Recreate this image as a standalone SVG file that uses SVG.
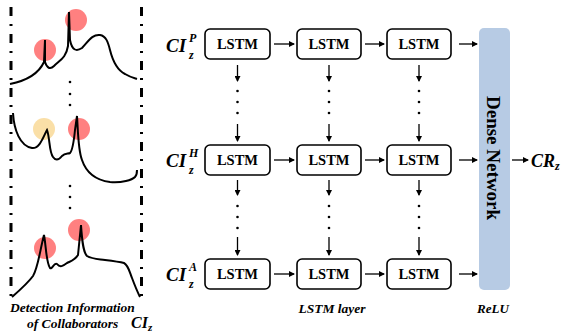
<svg xmlns="http://www.w3.org/2000/svg" width="567" height="336" viewBox="0 0 567 336">
<style>
.box{fill:#fff;stroke:#000;stroke-width:1.6}
.lt{font-family:"Liberation Serif",serif;font-weight:bold;font-size:14.5px;text-anchor:middle}
.lab{font-family:"Liberation Serif",serif;font-weight:bold;font-style:italic}
.dn{font-family:"Liberation Serif",serif;font-weight:bold;font-style:normal;font-size:19px;text-anchor:middle}
.ar{stroke:#000;stroke-width:1.3;fill:none;marker-end:url(#ah)}
.dot{fill:#000}
.curve{fill:none;stroke:#000;stroke-width:2}
.dash{stroke:#000;stroke-width:3;stroke-dasharray:9 8 2 8}
.red{fill:#ff4f4f;fill-opacity:0.72}
.yel{fill:#f8d48a;fill-opacity:0.75}
</style>
<defs>
<marker id="ah" markerWidth="6" markerHeight="6" refX="5" refY="3" orient="auto" markerUnits="userSpaceOnUse">
<path d="M0,0 L6,3 L0,6 z" fill="#000"/>
</marker>
</defs>

<g id="detection-panel">
<line class="dash" x1="11" y1="7" x2="11" y2="300"/>
<line class="dash" x1="141.5" y1="7" x2="141.5" y2="300"/>
<circle class="red" cx="45" cy="50" r="11"/>
<circle class="red" cx="76" cy="20" r="11"/>
<path class="curve" d="M10,84 C25,81 38,75 44,62 L45,40 L45,62 C47,68 50,70 54,66 C60,60 66,58 68,46 L69,12 L70,40 C72,50 76,52 82,48 C88,42 92,34 100,35 C106,36 108,42 110,50 C113,62 117,70 125,74 C130,77 134,78 137,79"/>
<circle class="dot" cx="70" cy="82" r="1.3"/>
<circle class="dot" cx="70" cy="94" r="1.3"/>
<circle class="dot" cx="70" cy="105" r="1.3"/>
<circle class="yel" cx="44" cy="129" r="11"/>
<circle class="red" cx="79" cy="129" r="11"/>
<path class="curve" d="M13,113 C14,130 20,146 32,148 C40,149 44,135 47,130 C50,138 49,152 53,157 C55,160 58,161 62,156 C65,153 68,154 70,153 C73,150 74,140 75,130 L77,116 C78,130 78,150 82,160 C86,172 95,180 110,182 C122,183 132,180 135,177 C137,175 137,172 137,170"/>
<circle class="dot" cx="70" cy="186" r="1.3"/>
<circle class="dot" cx="70" cy="197" r="1.3"/>
<circle class="dot" cx="70" cy="208" r="1.3"/>
<circle class="red" cx="45" cy="248" r="11"/>
<circle class="red" cx="79" cy="230" r="11"/>
<path class="curve" d="M12,297 C20,290 28,283 33,276 C38,268 40,250 44,235 C46,245 46,262 50,268 C52,270 54,262 57,264 C60,268 63,266 67,263 C71,261 75,260 78,255 L81,225 C82,240 83,252 87,256 C92,259 98,259 105,260 C113,261 120,262 124,263 C128,265 129,270 132,278 C135,286 138,293 140,297"/>
<text class="lab" x="10" y="312" font-size="13.5">Detection Information</text>
<text class="lab" x="27" y="328" font-size="13.5">of Collaborators</text>
<text class="lab" x="131" y="328" font-size="16">CI<tspan font-size="11" dy="3">z</tspan></text>
</g>

<g id="input-labels">
<text class="lab" x="166" y="52" font-size="19">CI</text>
<text class="lab" x="189" y="42" font-size="12">P</text>
<text class="lab" x="189" y="59" font-size="12">z</text>
<text class="lab" x="166" y="167" font-size="19">CI</text>
<text class="lab" x="189" y="157" font-size="12">H</text>
<text class="lab" x="189" y="174" font-size="12">z</text>
<text class="lab" x="166" y="281" font-size="19">CI</text>
<text class="lab" x="189" y="271" font-size="12">A</text>
<text class="lab" x="189" y="288" font-size="12">z</text>
</g>

<g id="lstm-1-1"><rect class="box" x="205" y="29" width="65" height="30" rx="5"/><text class="lt" x="237.5" y="49">LSTM</text></g>
<g id="lstm-1-2"><rect class="box" x="297" y="29" width="64" height="30" rx="5"/><text class="lt" x="329" y="49">LSTM</text></g>
<g id="lstm-1-3"><rect class="box" x="387" y="29" width="64" height="30" rx="5"/><text class="lt" x="419" y="49">LSTM</text></g>
<g id="lstm-2-1"><rect class="box" x="205" y="145" width="65" height="30" rx="5"/><text class="lt" x="237.5" y="165">LSTM</text></g>
<g id="lstm-2-2"><rect class="box" x="297" y="145" width="64" height="30" rx="5"/><text class="lt" x="329" y="165">LSTM</text></g>
<g id="lstm-2-3"><rect class="box" x="387" y="145" width="64" height="30" rx="5"/><text class="lt" x="419" y="165">LSTM</text></g>
<g id="lstm-3-1"><rect class="box" x="205" y="259" width="65" height="30" rx="5"/><text class="lt" x="237.5" y="279">LSTM</text></g>
<g id="lstm-3-2"><rect class="box" x="297" y="259" width="64" height="30" rx="5"/><text class="lt" x="329" y="279">LSTM</text></g>
<g id="lstm-3-3"><rect class="box" x="387" y="259" width="64" height="30" rx="5"/><text class="lt" x="419" y="279">LSTM</text></g>

<g id="dense">
<rect x="479" y="28" width="31" height="262" rx="5" fill="#b7cbe4"/>
<text class="dn" transform="translate(487,158) rotate(90)">Dense Network</text>
</g>

<g id="output"><text class="lab" x="531" y="167" font-size="18">CR<tspan font-size="12" dy="3">z</tspan></text></g>

<g id="connectors">
<line class="ar" x1="274" y1="44" x2="294" y2="44"/>
<line class="ar" x1="365" y1="44" x2="384" y2="44"/>
<line class="ar" x1="459" y1="44" x2="477" y2="44"/>
<line class="ar" x1="274" y1="160" x2="294" y2="160"/>
<line class="ar" x1="365" y1="160" x2="384" y2="160"/>
<line class="ar" x1="459" y1="160" x2="477" y2="160"/>
<line class="ar" x1="274" y1="274" x2="294" y2="274"/>
<line class="ar" x1="365" y1="274" x2="384" y2="274"/>
<line class="ar" x1="459" y1="274" x2="477" y2="274"/>
<line class="ar" x1="512" y1="160" x2="528" y2="160"/>
<g id="v-col1">
<line class="ar" x1="237.5" y1="65" x2="237.5" y2="81"/>
<circle class="dot" cx="237.5" cy="91" r="1.3"/><circle class="dot" cx="237.5" cy="102" r="1.3"/><circle class="dot" cx="237.5" cy="113" r="1.3"/>
<line class="ar" x1="237.5" y1="124" x2="237.5" y2="141"/>
<line class="ar" x1="237.5" y1="180" x2="237.5" y2="195"/>
<circle class="dot" cx="237.5" cy="206" r="1.3"/><circle class="dot" cx="237.5" cy="217" r="1.3"/><circle class="dot" cx="237.5" cy="228" r="1.3"/>
<line class="ar" x1="237.5" y1="237" x2="237.5" y2="255"/>
</g>
<g id="v-col2">
<line class="ar" x1="329" y1="65" x2="329" y2="81"/>
<circle class="dot" cx="329" cy="91" r="1.3"/><circle class="dot" cx="329" cy="102" r="1.3"/><circle class="dot" cx="329" cy="113" r="1.3"/>
<line class="ar" x1="329" y1="124" x2="329" y2="141"/>
<line class="ar" x1="329" y1="180" x2="329" y2="195"/>
<circle class="dot" cx="329" cy="206" r="1.3"/><circle class="dot" cx="329" cy="217" r="1.3"/><circle class="dot" cx="329" cy="228" r="1.3"/>
<line class="ar" x1="329" y1="237" x2="329" y2="255"/>
</g>
<g id="v-col3">
<line class="ar" x1="419" y1="65" x2="419" y2="81"/>
<circle class="dot" cx="419" cy="91" r="1.3"/><circle class="dot" cx="419" cy="102" r="1.3"/><circle class="dot" cx="419" cy="113" r="1.3"/>
<line class="ar" x1="419" y1="124" x2="419" y2="141"/>
<line class="ar" x1="419" y1="180" x2="419" y2="195"/>
<circle class="dot" cx="419" cy="206" r="1.3"/><circle class="dot" cx="419" cy="217" r="1.3"/><circle class="dot" cx="419" cy="228" r="1.3"/>
<line class="ar" x1="419" y1="237" x2="419" y2="255"/>
</g>
</g>

<g id="captions">
<text class="lab" x="332" y="313" font-size="13.5" text-anchor="middle">LSTM layer</text>
<text class="lab" x="493" y="313" font-size="13" text-anchor="middle">ReLU</text>
</g>
</svg>
